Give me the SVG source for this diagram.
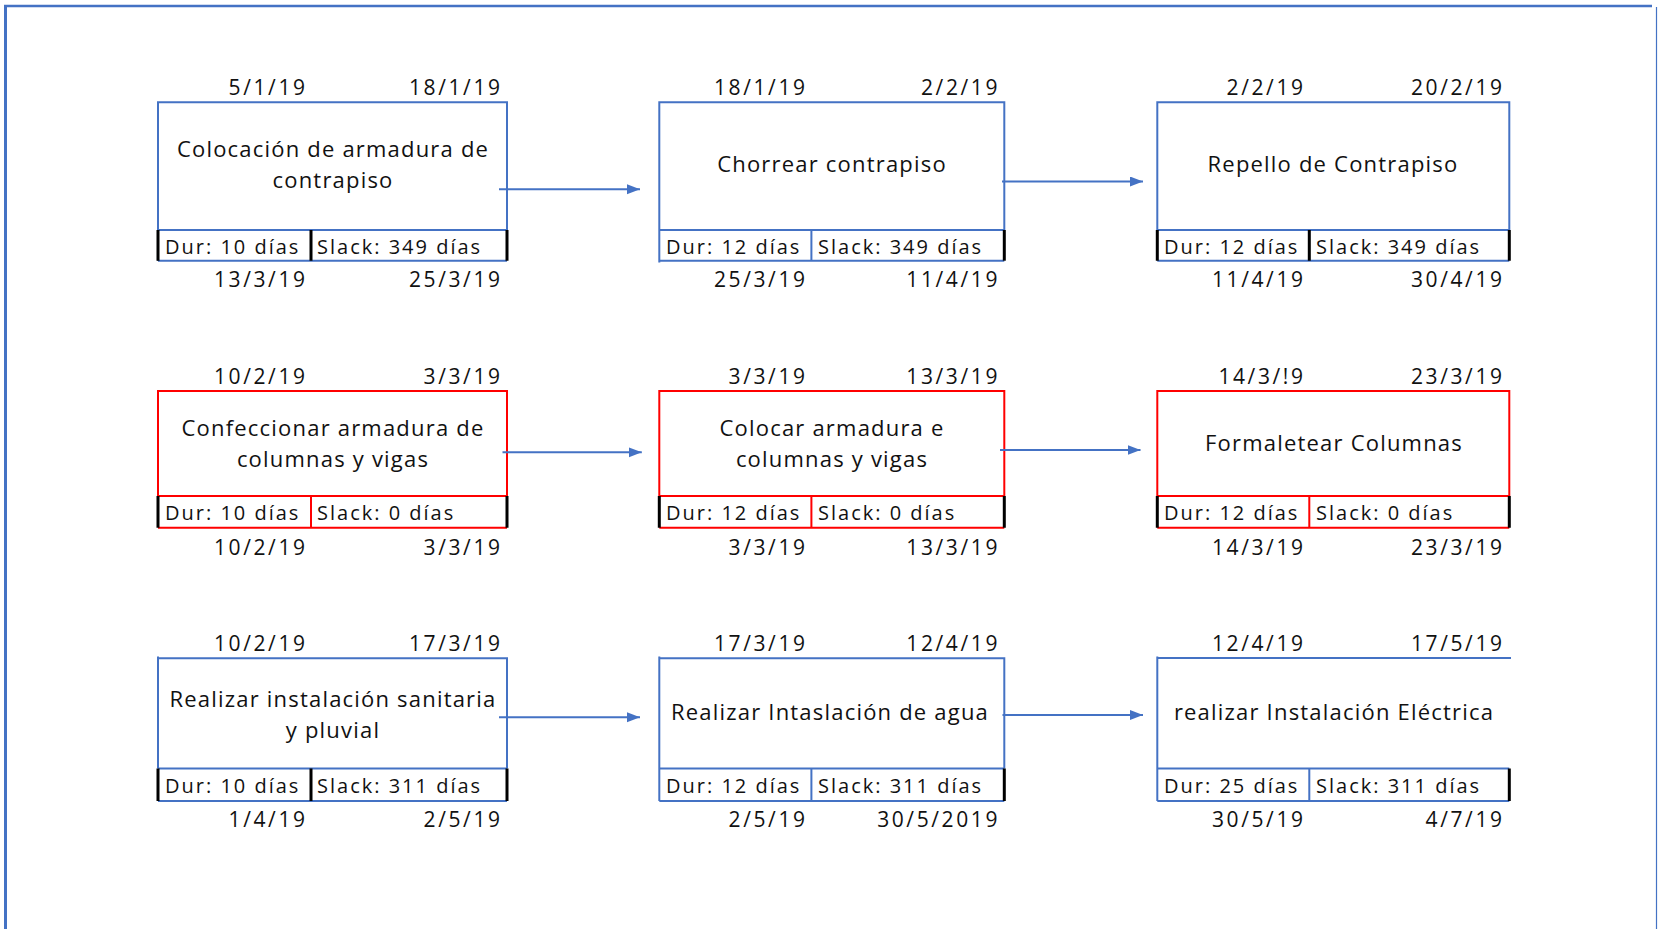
<svg xmlns="http://www.w3.org/2000/svg" width="1659" height="929" viewBox="0 0 1659 929">
  <style>
    text { font-family: "Open Sans", "Liberation Sans", sans-serif; fill: #111; }
    .date { font-size: 21px; letter-spacing: 2.6px; text-anchor: end; }
    .title { font-size: 22px; letter-spacing: 1.2px; text-anchor: middle; }
    .cell { font-size: 20px; letter-spacing: 2px; }
    .blue { stroke: #4472C4; stroke-width: 2; fill: none; }
    .red { stroke: #FF0000; stroke-width: 2; fill: none; }
    .blk { stroke: #000; stroke-width: 3; fill: none; }
    .arrow { stroke: #4472C4; stroke-width: 2; fill: none; marker-end: url(#head); }
  </style>
  <defs>
    <marker id="head" markerUnits="userSpaceOnUse" markerWidth="14" markerHeight="11" refX="13" refY="5" orient="auto">
      <path d="M0,0 L13,5 L0,10 z" fill="#4472C4"/>
    </marker>
  </defs>
  <rect width="1659" height="929" fill="#fff"/>

  <!-- page frame -->
  <g id="frame">
    <line x1="4" y1="6" x2="1652" y2="6" stroke="#4472C4" stroke-width="2.5"/>
    <line x1="5.5" y1="5" x2="5.5" y2="929" stroke="#4472C4" stroke-width="3"/>
    <line x1="1656.5" y1="7" x2="1656.5" y2="929" stroke="#4472C4" stroke-width="1.2"/>
  </g>

  <!-- row 1 -->
  <g id="n-colocacion-contrapiso">
    <text class="date" x="307.6" y="95">5/1/19</text>
    <text class="date" x="502.6" y="95">18/1/19</text>
    <path class="blue" d="M158,260.7 V102.3 H507 V230 M158,230 H507 M158,260.7 H507"/>
    <path class="blk" d="M158,230 V260.7 M507,230 V260.7 M311,230 V260.7"/>
    <text class="title" x="333" y="157">Colocación de armadura de</text>
    <text class="title" x="333" y="188">contrapiso</text>
    <text class="cell" x="165" y="254">Dur: 10 días</text>
    <text class="cell" x="317" y="254">Slack: 349 días</text>
    <text class="date" x="307.6" y="287">13/3/19</text>
    <text class="date" x="502.6" y="287">25/3/19</text>
  </g>

  <g id="n-chorrear">
    <text class="date" x="807.6" y="95">18/1/19</text>
    <text class="date" x="1000" y="95">2/2/19</text>
    <path class="blue" d="M659.3,262.5 V102.3 H1004.3 V230 M659.3,230 H1004.3 M659.3,260.7 H1004.3 M811.4,230 V260.7"/>
    <path class="blk" d="M1004.3,230 V260.7"/>
    <text class="title" x="832" y="172">Chorrear contrapiso</text>
    <text class="cell" x="666" y="254">Dur: 12 días</text>
    <text class="cell" x="818" y="254">Slack: 349 días</text>
    <text class="date" x="807.6" y="287">25/3/19</text>
    <text class="date" x="1000" y="287">11/4/19</text>
  </g>

  <g id="n-repello">
    <text class="date" x="1305.6" y="95">2/2/19</text>
    <text class="date" x="1504.6" y="95">20/2/19</text>
    <path class="blue" d="M1157.3,230 V102.3 H1509.3 V230 M1157.3,230 H1509.3 M1157.3,260.7 H1509.3"/>
    <path class="blk" d="M1157.3,230 V260.7 M1509.3,230 V260.7 M1309.3,230 V260.7"/>
    <text class="title" x="1333" y="172">Repello de Contrapiso</text>
    <text class="cell" x="1164" y="254">Dur: 12 días</text>
    <text class="cell" x="1316" y="254">Slack: 349 días</text>
    <text class="date" x="1305.6" y="287">11/4/19</text>
    <text class="date" x="1504.6" y="287">30/4/19</text>
  </g>

  <!-- row 2 (critical path) -->
  <g id="n-confeccionar">
    <text class="date" x="307.6" y="384">10/2/19</text>
    <text class="date" x="502.6" y="384">3/3/19</text>
    <path class="red" d="M158,496 V391 H507 V496 M158,496 H507 M158,527.7 H507 M311,496 V527.7"/>
    <path class="blk" d="M158,496 V527.7 M507,496 V527.7"/>
    <text class="title" x="333" y="436">Confeccionar armadura de</text>
    <text class="title" x="333" y="467">columnas y vigas</text>
    <text class="cell" x="165" y="520">Dur: 10 días</text>
    <text class="cell" x="317" y="520">Slack: 0 días</text>
    <text class="date" x="307.6" y="555">10/2/19</text>
    <text class="date" x="502.6" y="555">3/3/19</text>
  </g>

  <g id="n-colocar-armadura">
    <text class="date" x="807.6" y="384">3/3/19</text>
    <text class="date" x="1000" y="384">13/3/19</text>
    <path class="red" d="M659.3,496 V391 H1004.3 V496 M659.3,496 H1004.3 M659.3,527.7 H1004.3 M811.4,496 V527.7"/>
    <path class="blk" d="M659.3,496 V527.7 M1004.3,496 V527.7"/>
    <text class="title" x="832" y="436">Colocar armadura e</text>
    <text class="title" x="832" y="467">columnas y vigas</text>
    <text class="cell" x="666" y="520">Dur: 12 días</text>
    <text class="cell" x="818" y="520">Slack: 0 días</text>
    <text class="date" x="807.6" y="555">3/3/19</text>
    <text class="date" x="1000" y="555">13/3/19</text>
  </g>

  <g id="n-formaletear">
    <text class="date" x="1305.6" y="384">14/3/!9</text>
    <text class="date" x="1504.6" y="384">23/3/19</text>
    <path class="red" d="M1157.3,496 V391 H1509.3 V496 M1157.3,496 H1509.3 M1157.3,527.7 H1509.3 M1309.3,496 V527.7"/>
    <path class="blk" d="M1157.3,496 V527.7 M1509.3,496 V527.7"/>
    <text class="title" x="1334" y="451">Formaletear Columnas</text>
    <text class="cell" x="1164" y="520">Dur: 12 días</text>
    <text class="cell" x="1316" y="520">Slack: 0 días</text>
    <text class="date" x="1305.6" y="555">14/3/19</text>
    <text class="date" x="1504.6" y="555">23/3/19</text>
  </g>

  <!-- row 3 -->
  <g id="n-sanitaria">
    <text class="date" x="307.6" y="651">10/2/19</text>
    <text class="date" x="502.6" y="651">17/3/19</text>
    <path class="blue" d="M158,768.5 V656.5 M158,658.3 H507 V768.5 M158,768.5 H507 M158,801 H507"/>
    <path class="blk" d="M158,768.5 V801 M507,768.5 V801 M311,768.5 V801"/>
    <text class="title" x="333" y="707">Realizar instalación sanitaria</text>
    <text class="title" x="333" y="738">y pluvial</text>
    <text class="cell" x="165" y="793">Dur: 10 días</text>
    <text class="cell" x="317" y="793">Slack: 311 días</text>
    <text class="date" x="307.6" y="827">1/4/19</text>
    <text class="date" x="502.6" y="827">2/5/19</text>
  </g>

  <g id="n-agua">
    <text class="date" x="807.6" y="651">17/3/19</text>
    <text class="date" x="1000" y="651">12/4/19</text>
    <path class="blue" d="M659.3,801 V656.5 M659.3,658.3 H1004.3 V768.5 M659.3,768.5 H1004.3 M659.3,801 H1004.3 M811.4,768.5 V801"/>
    <path class="blk" d="M1004.3,768.5 V801"/>
    <text class="title" x="830" y="720">Realizar Intaslación de agua</text>
    <text class="cell" x="666" y="793">Dur: 12 días</text>
    <text class="cell" x="818" y="793">Slack: 311 días</text>
    <text class="date" x="807.6" y="827">2/5/19</text>
    <text class="date" x="1000" y="827">30/5/2019</text>
  </g>

  <g id="n-electrica">
    <text class="date" x="1305.6" y="651">12/4/19</text>
    <text class="date" x="1504.6" y="651">17/5/19</text>
    <path class="blue" d="M1157.3,801 V656.5 M1157.3,658 H1511 M1157.3,768.5 H1509.3 M1157.3,801 H1509.3 M1309.3,768.5 V801"/>
    <path class="blk" d="M1509.3,768.5 V801"/>
    <text class="title" x="1334" y="720">realizar Instalación Eléctrica</text>
    <text class="cell" x="1164" y="793">Dur: 25 días</text>
    <text class="cell" x="1316" y="793">Slack: 311 días</text>
    <text class="date" x="1305.6" y="827">30/5/19</text>
    <text class="date" x="1504.6" y="827">4/7/19</text>
  </g>

  <!-- dependency arrows -->
  <g id="connectors">
    <line class="arrow" x1="499" y1="189.3" x2="640" y2="189.3"/>
    <line class="arrow" x1="1002" y1="181.5" x2="1143" y2="181.5"/>
    <line class="arrow" x1="502.5" y1="452.3" x2="641.8" y2="452.3"/>
    <line class="arrow" x1="1000" y1="450" x2="1140.5" y2="450"/>
    <line class="arrow" x1="499" y1="717.3" x2="640" y2="717.3"/>
    <line class="arrow" x1="1002.5" y1="715" x2="1143" y2="715"/>
  </g>
</svg>
